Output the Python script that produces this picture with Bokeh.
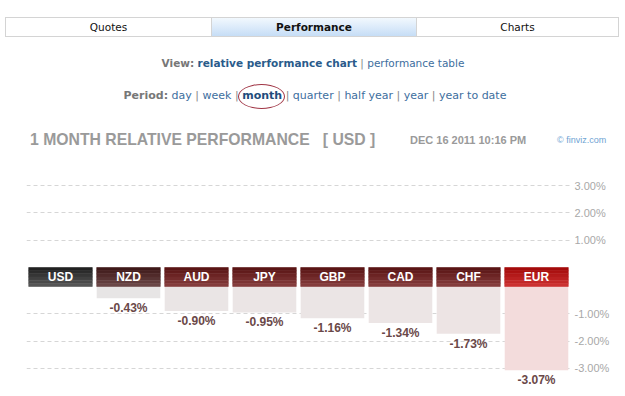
from bokeh.plotting import figure
from bokeh.models import FactorRange, Range1d, FixedTicker, CustomJSTickFormatter, Div
from bokeh.layouts import column
from bokeh.core.properties import value
from bokeh.embed import file_html
from bokeh.resources import INLINE

# ---------------- data ----------------
currencies = ["USD", "NZD", "AUD", "JPY", "GBP", "CAD", "CHF", "EUR"]
changes = [0.0, -0.43, -0.90, -0.95, -1.16, -1.34, -1.73, -3.07]
base_currency = "USD"
tick_values = [3.0, 2.0, 1.0, -1.0, -2.0, -3.0]
tabs = ["Quotes", "Performance", "Charts"]
periods = ["day", "week", "month", "quarter", "half year", "year", "year to date"]
title_text = "1 MONTH RELATIVE PERFORMANCE   [ USD ]"
stamp_text = "DEC 16 2011 10:16 PM"
credit_text = "\u00a9 finviz.com"

# ---------------- styles ----------------
header_top_colors = ["#1c1c1c", "#3a1414", "#561010", "#561010", "#561010", "#561010", "#561010", "#a00606"]
header_bot_colors = ["#5a5a5a", "#6e4a4a", "#884040", "#884040", "#884040", "#884040", "#884040", "#cf3535"]
body_colors = ["#ffffff", "#e7e5e5", "#eae5e5", "#ebe5e5", "#ebe5e5", "#ece5e5", "#ede4e4", "#f3dcdc"]

PX_PER_PCT = 27.3
HEADER = 19 / PX_PER_PCT  # header band height, in % units


def shift(v):
    return v if v > 0 else v - HEADER


def mix(c1, c2, t):
    a = [int(c1[i:i + 2], 16) for i in (1, 3, 5)]
    b = [int(c2[i:i + 2], 16) for i in (1, 3, 5)]
    return "#%02x%02x%02x" % tuple(round(a[k] + (b[k] - a[k]) * t) for k in range(3))


# ---------------- top (page navigation + title row) ----------------
link = "color:#3d6e9e;text-decoration:none"
period_html = []
for per in periods:
    if per == "month":
        period_html.append(
            '<span style="position:relative;display:inline-block;color:#1f4c7c;font-weight:bold">month'
            '<span style="position:absolute;left:-4px;right:-3px;top:-4px;bottom:-5px;'
            'border:1px solid #a03545;border-radius:50%"></span></span>')
    else:
        period_html.append('<span style="%s">%s</span>' % (link, per))
period_str = ' <span style="color:#888">|</span> '.join(period_html)

tab_x = [5, 211, 416, 619]
tab_html = ""
for i, t in enumerate(tabs):
    bg = "linear-gradient(#f2f8fe,#c6ddf6)" if t == "Performance" else "#ffffff"
    fw = "bold" if t == "Performance" else "normal"
    tab_html += ('<div style="position:absolute;left:%dpx;top:17px;width:%dpx;height:20px;box-sizing:border-box;'
                 'border:1px solid #d4d4d4;background:%s;text-align:center;line-height:19px;color:#111;'
                 'font-size:10.5px;font-weight:%s">%s</div>') % (tab_x[i], tab_x[i + 1] - tab_x[i] + (1 if i < 2 else 0), bg, fw, t)

sans = "font-family:'Liberation Sans',Arial,sans-serif;"
html = (
    '<div style="position:relative;width:625px;height:165px;font-family:\'DejaVu Sans\',Verdana,sans-serif;'
    'font-size:11px;">' + tab_html +
    '<div style="position:absolute;left:0;top:55px;width:626px;text-align:center;line-height:16px;font-size:10.5px">'
    '<b style="color:#777">View:</b> <b style="color:#2a5b8b">relative performance chart</b> '
    '<span style="color:#888">|</span> <span style="%s">performance table</span></div>' % link +
    '<div style="position:absolute;left:2px;top:88px;width:626px;text-align:center;line-height:16px;font-size:11px">'
    '<b style="color:#777">Period:</b> ' + period_str + '</div>'
    '<div style="position:absolute;left:30px;top:130px;line-height:20px;white-space:pre;%s'
    'font-size:15.75px;font-weight:bold;color:#9a9a9a">%s</div>' % (sans, title_text) +
    '<div style="position:absolute;left:410px;top:131px;line-height:18px;white-space:pre;%s'
    'font-size:11px;font-weight:bold;color:#9a9a9a">%s</div>' % (sans, stamp_text) +
    '<div style="position:absolute;left:557px;top:131px;line-height:18px;white-space:pre;%s'
    'font-size:9px;color:#6ea3d3">%s</div>' % (sans, credit_text) +
    '</div>'
)
top = Div(text=html, width=625, height=165, margin=(0, 0, 0, 0))

# ---------------- chart ----------------
p = figure(width=625, height=231, x_range=FactorRange(factors=currencies),
           y_range=Range1d(-HEADER - 110 / PX_PER_PCT, 102 / PX_PER_PCT),
           output_backend="svg", toolbar_location=None, x_axis_location=None, y_axis_location="right",
           min_border_left=26, min_border_right=55, min_border_top=0, min_border_bottom=0,
           outline_line_color=None, background_fill_color="white", border_fill_color="white")
p.margin = (0, 0, 0, 0)

ticker = FixedTicker(ticks=[shift(v) for v in tick_values])
p.yaxis.ticker = ticker
p.yaxis.formatter = CustomJSTickFormatter(
    args=dict(h=HEADER),
    code="const v = tick > 0 ? tick : tick + h; return v.toFixed(2) + '%';")
p.yaxis.axis_line_color = None
p.yaxis.major_tick_line_color = None
p.yaxis.minor_tick_line_color = None
p.yaxis.major_tick_out = 0
p.yaxis.major_tick_in = 0
p.yaxis.major_label_standoff = 4
p.yaxis.major_label_text_color = "#a8a8a8"
p.yaxis.major_label_text_font = "Liberation Sans"
p.yaxis.major_label_text_font_size = "11px"
p.ygrid.ticker = ticker
p.ygrid.grid_line_color = "#d6d6d6"
p.ygrid.grid_line_dash = "4 3"
p.xgrid.grid_line_color = None

# value bars (below the header band)
others = [c for c in currencies if c != base_currency]
vals = [changes[currencies.index(c)] for c in others]
p.vbar(x=others, top=-HEADER, bottom=[shift(v) for v in vals], width=0.935,
       fill_color=[body_colors[currencies.index(c)] for c in others], line_color=None)

# header band with vertical gradient
n_strips = 6
for k in range(n_strips):
    t = (k + 0.5) / n_strips
    cols = [mix(a, b, t) for a, b in zip(header_top_colors, header_bot_colors)]
    p.vbar(x=currencies, top=-HEADER * k / n_strips, bottom=-HEADER * (k + 1) / n_strips, width=0.935,
           fill_color=cols, line_color=cols, line_width=0.6)

p.text(x=currencies, y=-HEADER / 2, text=currencies, text_align="center", text_baseline="middle",
       text_color="white", text_font=value("Liberation Sans"), text_font_style="bold", text_font_size="12px")

p.text(x=others, y=[shift(v) for v in vals], text=["%.2f%%" % v for v in vals], y_offset=3,
       text_align="center", text_baseline="top", text_color="#6a4848",
       text_font=value("Liberation Sans"), text_font_style="bold", text_font_size="12px")

layout = column(top, p, spacing=0, margin=(0, 0, 0, 0))
open("out.html", "w").write(file_html(layout, INLINE))
